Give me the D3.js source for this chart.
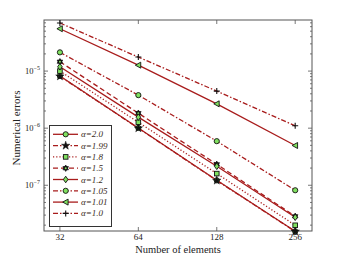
<!DOCTYPE html>
<html lang="en">
<head>
<meta charset="UTF-8">
<title>Numerical errors vs number of elements</title>
<script src="https://d3js.org/d3.v7.min.js"></script>
<style>
    body { margin: 0; background: #fff; }
    text { font-family: "Liberation Serif", "Times New Roman", serif; fill: #222; }
    .series { fill: none; stroke: #a81c1c; stroke-width: 1.3px; }
    .frame { fill: none; stroke: #555; stroke-width: 1px; }
    .tick-line { stroke: #555; stroke-width: 0.8px; }
</style>
</head>
<body>
<svg id="chart" width="346" height="261"></svg>
<script>
// Data
var elements = [32, 64, 128, 256];
var alphas = ["2.0", "1.99", "1.8", "1.5", "1.2", "1.05", "1.01", "1.0"];
var err_a200 = [8.2e-6, 1.01e-6, 1.22e-7, 1.56e-8];
var err_a199 = [8.1e-6, 1.0e-6, 1.21e-7, 1.55e-8];
var err_a180 = [1.0e-5, 1.27e-6, 1.6e-7, 1.99e-8];
var err_a150 = [1.46e-5, 1.83e-6, 2.33e-7, 2.86e-8];
var err_a120 = [1.19e-5, 1.56e-6, 2.15e-7, 2.75e-8];
var err_a105 = [2.13e-5, 3.79e-6, 5.92e-7, 8.17e-8];
var err_a101 = [5.52e-5, 1.27e-5, 2.67e-6, 4.97e-7];
var err_a100 = [6.95e-5, 1.76e-5, 4.46e-6, 1.1e-6];
var yTicks = [1e-5, 1e-6, 1e-7];

var series = [
    {a: alphas[0], v: err_a200, dash: null, mark: "circle"},
    {a: alphas[1], v: err_a199, dash: "5,2,1.5,2", mark: "star"},
    {a: alphas[2], v: err_a180, dash: "1.2,2", mark: "square"},
    {a: alphas[3], v: err_a150, dash: "5,3", mark: "hexagram"},
    {a: alphas[4], v: err_a120, dash: null, mark: "diamond"},
    {a: alphas[5], v: err_a105, dash: "5,2,1.5,2", mark: "circle"},
    {a: alphas[6], v: err_a101, dash: null, mark: "triangle"},
    {a: alphas[7], v: err_a100, dash: "5,2,1.5,2", mark: "plus"}
];

var pLeft = 44, pRight = 312, pTop = 20, pBottom = 231;
var svg = d3.select("#chart");

var x = d3.scaleLog().base(2).domain([27.8, 297]).range([pLeft, pRight]);
var y = d3.scaleLog().domain([1.58e-8, 7.85e-5]).range([pBottom, pTop]);

// plot frame
svg.append("rect").attr("class", "frame")
    .attr("x", pLeft).attr("y", pTop)
    .attr("width", pRight - pLeft).attr("height", pBottom - pTop);

// x ticks (inside, top and bottom)
elements.forEach(function(n) {
    svg.append("line").attr("class", "tick-line")
        .attr("x1", x(n)).attr("x2", x(n)).attr("y1", pBottom).attr("y2", pBottom - 4);
    svg.append("line").attr("class", "tick-line")
        .attr("x1", x(n)).attr("x2", x(n)).attr("y1", pTop).attr("y2", pTop + 4);
    svg.append("text")
        .attr("x", x(n)).attr("y", 240)
        .attr("text-anchor", "middle")
        .style("font-size", "9px")
        .text(n);
});

// y ticks: majors and log minors on both sides
var minors = [];
for (var e = -8; e <= -5; e++) {
    for (var m = 1; m <= 9; m++) {
        var v = m * Math.pow(10, e);
        if (v >= y.domain()[0] && v <= y.domain()[1]) minors.push({v: v, major: m === 1});
    }
}
minors.forEach(function(t) {
    var len = t.major ? 4 : 2;
    svg.append("line").attr("class", "tick-line")
        .attr("x1", pLeft).attr("x2", pLeft + len).attr("y1", y(t.v)).attr("y2", y(t.v));
    svg.append("line").attr("class", "tick-line")
        .attr("x1", pRight).attr("x2", pRight - len).attr("y1", y(t.v)).attr("y2", y(t.v));
});

yTicks.forEach(function(t) {
    var lbl = svg.append("text")
        .attr("x", 40).attr("y", y(t) + 3)
        .attr("text-anchor", "end")
        .style("font-size", "8.5px");
    lbl.append("tspan").text("10");
    lbl.append("tspan").attr("dy", -4).style("font-size", "6px")
        .text("\u2212" + Math.round(-Math.log10(t)));
});

// axis titles
svg.append("text")
    .attr("x", 178).attr("y", 253)
    .attr("text-anchor", "middle")
    .style("font-size", "10.5px")
    .text("Number of elements");

svg.append("text")
    .attr("transform", "translate(20,128) rotate(-90)")
    .attr("text-anchor", "middle")
    .style("font-size", "11px")
    .text("Numerical errors");

// marker drawing
function drawMarker(g, kind, cx, cy) {
    var fill = "#80e060", edge = "#111";
    if (kind === "circle") {
        g.append("circle").attr("cx", cx).attr("cy", cy).attr("r", 2.6)
            .attr("fill", fill).attr("stroke", edge).attr("stroke-width", 0.9);
    } else if (kind === "square") {
        g.append("rect").attr("x", cx - 2.3).attr("y", cy - 2.3)
            .attr("width", 4.6).attr("height", 4.6)
            .attr("fill", fill).attr("stroke", edge).attr("stroke-width", 0.9);
    } else if (kind === "star") {
        g.append("path").attr("transform", "translate(" + cx + "," + cy + ")")
            .attr("d", d3.symbol(d3.symbolStar, 22)())
            .attr("fill", "#111").attr("stroke", "#111").attr("stroke-width", 0.5);
    } else if (kind === "hexagram") {
        var tri1 = [], tri2 = [], r = 3.2;
        for (var i = 0; i < 3; i++) {
            var a1 = -Math.PI / 2 + i * 2 * Math.PI / 3;
            var a2 = Math.PI / 2 + i * 2 * Math.PI / 3;
            tri1.push([cx + r * Math.cos(a1), cy + r * Math.sin(a1)]);
            tri2.push([cx + r * Math.cos(a2), cy + r * Math.sin(a2)]);
        }
        [tri1, tri2].forEach(function(p) {
            g.append("path").attr("d", "M" + p.join("L") + "Z")
                .attr("fill", "#111").attr("stroke", edge).attr("stroke-width", 0.7);
        });
        g.append("circle").attr("cx", cx).attr("cy", cy).attr("r", 1)
            .attr("fill", fill);
    } else if (kind === "diamond") {
        g.append("path")
            .attr("d", "M" + cx + "," + (cy - 3.3) + "L" + (cx + 2.3) + "," + cy +
                "L" + cx + "," + (cy + 3.3) + "L" + (cx - 2.3) + "," + cy + "Z")
            .attr("fill", fill).attr("stroke", edge).attr("stroke-width", 0.9);
    } else if (kind === "triangle") {
        g.append("path")
            .attr("d", "M" + (cx - 3) + "," + cy + "L" + (cx + 2.4) + "," + (cy - 3) +
                "L" + (cx + 2.4) + "," + (cy + 3) + "Z")
            .attr("fill", fill).attr("stroke", edge).attr("stroke-width", 0.9);
    } else if (kind === "plus") {
        g.append("path")
            .attr("d", "M" + (cx - 3) + "," + cy + "H" + (cx + 3) +
                "M" + cx + "," + (cy - 3) + "V" + (cy + 3))
            .attr("stroke", "#111").attr("stroke-width", 1.1).attr("fill", "none");
    }
}

var line = d3.line()
    .x(function(d, i) { return x(elements[i]); })
    .y(function(d) { return y(d); });

var plot = svg.append("g");
series.forEach(function(s) {
    plot.append("path").attr("class", "series")
        .attr("d", line(s.v))
        .attr("stroke-dasharray", s.dash);
});
series.forEach(function(s) {
    var g = plot.append("g");
    s.v.forEach(function(v, i) { drawMarker(g, s.mark, x(elements[i]), y(v)); });
});

// legend
var lg = svg.append("g");
lg.append("rect")
    .attr("x", 49.5).attr("y", 125.5).attr("width", 62).attr("height", 101)
    .attr("fill", "#fff").attr("stroke", "#333").attr("stroke-width", 1);

series.forEach(function(s, i) {
    var ly = 134.3 + i * 11.3;
    lg.append("line").attr("class", "series")
        .attr("x1", 53).attr("x2", 78).attr("y1", ly).attr("y2", ly)
        .attr("stroke-dasharray", s.dash);
    drawMarker(lg, s.mark, 65.7, ly);
    lg.append("text")
        .attr("x", 81).attr("y", ly + 3)
        .style("font-size", "9px").style("font-style", "italic")
        .style("fill", "#3a2a1a")
        .text("\u03b1=" + s.a);
});
</script>
</body>
</html>
